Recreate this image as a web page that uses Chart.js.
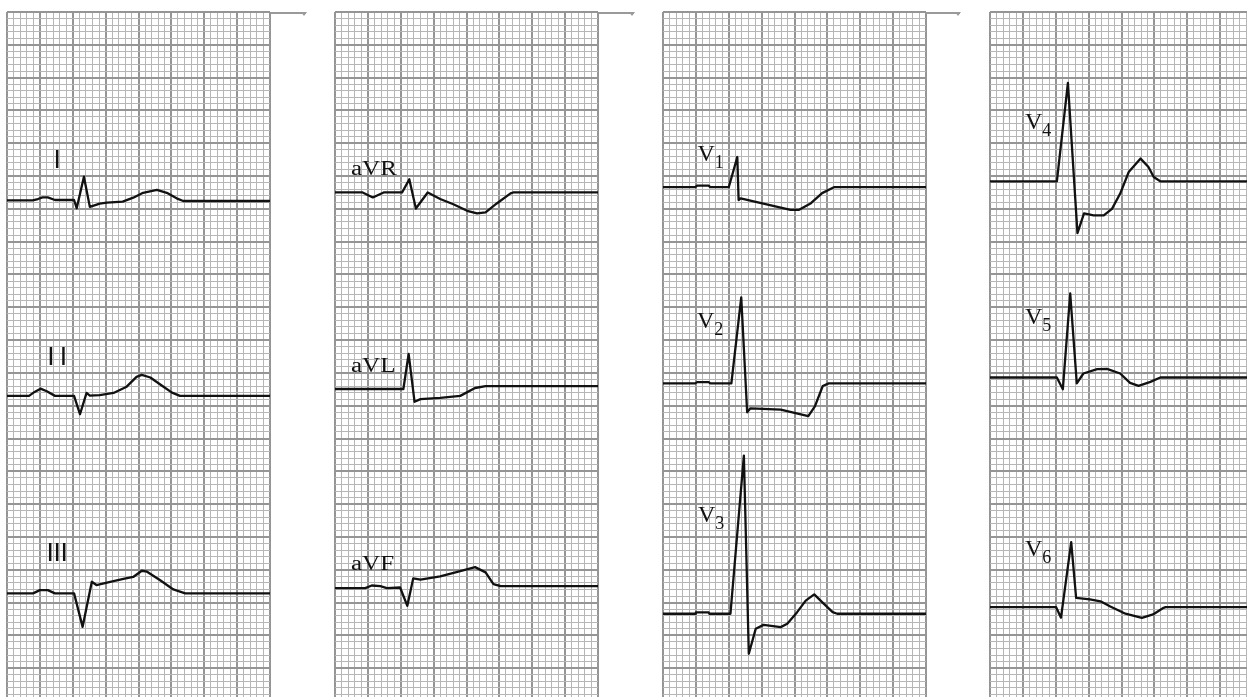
<!DOCTYPE html>
<html lang="en">
<head>
<meta charset="UTF-8">
<title>12-lead ECG</title>
<style>
  html, body { margin: 0; padding: 0; background: #fff; overflow: hidden; }
  body { width: 1247px; height: 697px; position: relative; }
  .strip { position: absolute; top: 11px; }
  .lbl { position: absolute; color: #111; line-height: 1; white-space: nowrap; }
  .roman { font-family: "DejaVu Sans", sans-serif; font-size: 25px; }
  .aug { font-family: "Liberation Serif", serif; font-size: 20px; transform: scaleX(1.25); transform-origin: left top; }
  .prec { font-family: "Liberation Serif", serif; font-size: 24px; }
  .prec sub { font-size: 18px; vertical-align: -7px; }
  .curl { position: absolute; top: 12px; height: 0; border-top: 2px solid #9a9a9a; }
  .curl::after { content: ""; position: absolute; right: -1px; top: -2px; border-left: 3px solid transparent; border-right: 3px solid transparent; border-top: 4px solid #9a9a9a; }
</style>
</head>
<body>

<canvas class="strip" id="col1" width="265" height="690" style="left:6px"></canvas>
<canvas class="strip" id="col2" width="265" height="690" style="left:334px"></canvas>
<canvas class="strip" id="col3" width="265" height="690" style="left:662px"></canvas>
<canvas class="strip" id="col4" width="265" height="690" style="left:989px"></canvas>

<div class="curl" style="left:271px; width:35px"></div>
<div class="curl" style="left:599px; width:35px"></div>
<div class="curl" style="left:926px; width:34px"></div>

<!-- lead names -->
<div class="lbl roman" style="left:53.6px; top:147px">I</div>
<div class="lbl roman" style="left:47.3px; top:343.7px; letter-spacing:5px">II</div>
<div class="lbl roman" style="left:46.6px; top:540.3px; letter-spacing:-0.4px">III</div>

<div class="lbl aug" style="left:351px; top:158px">aVR</div>
<div class="lbl aug" style="left:351px; top:355px">aVL</div>
<div class="lbl aug" style="left:351px; top:553px">aVF</div>

<div class="lbl prec" style="left:697.5px; top:141px">V<sub>1</sub></div>
<div class="lbl prec" style="left:697px; top:308px">V<sub>2</sub></div>
<div class="lbl prec" style="left:698px; top:502px">V<sub>3</sub></div>

<div class="lbl prec" style="left:1025px; top:109px">V<sub>4</sub></div>
<div class="lbl prec" style="left:1025px; top:304px">V<sub>5</sub></div>
<div class="lbl prec" style="left:1025px; top:536px">V<sub>6</sub></div>

<script src="https://cdn.jsdelivr.net/npm/chart.js"></script>
<script>
  // each point: [time in small squares, amplitude in small squares (mm)]
  const leadI = [[0,0.1],[3.9,0.1],[4.7,0.3],[5.4,0.55],[6.2,0.55],[7.3,0.15],[10.2,0.15],[10.6,-1.1],[11.7,3.7],[12.6,-0.9],
    [14.1,-0.4],[15.2,-0.25],[17.6,-0.1],[19.2,0.5],[20.7,1.25],[22.8,1.68],[24.3,1.25],[25.8,0.4],[26.8,0],[40,0]];
  const leadII = [[0,0],[3.35,0],[4.2,0.6],[5.1,1.1],[6.05,0.7],[7.3,0],[10.2,0],[11.1,-2.8],[12.1,0.45],[12.6,0.05],
    [14.1,0.1],[16.2,0.45],[18.2,1.4],[19.7,2.9],[20.5,3.2],[21.8,2.8],[23.8,1.4],[25.1,0.5],[26.3,0],[40,0]];
  const leadIII = [[0,0],[3.96,0],[5.0,0.5],[6.2,0.5],[7.3,0],[10.2,0],[11.5,-5.1],[12.9,1.77],[13.6,1.27],[15.7,1.77],
    [17.7,2.2],[19.2,2.5],[20.5,3.45],[21.3,3.3],[23.3,2.0],[25.3,0.6],[27.1,0],[40,0]];

  const leadAVR = [[0,0],[4.2,0],[5.75,-0.76],[7.4,0],[10.2,0],[11.3,2.0],[12.3,-2.45],[14.1,0],[16.0,-1.0],[18.0,-1.79],
    [20.1,-2.8],[21.6,-3.2],[22.9,-3.05],[24.6,-1.68],[26.7,-0.15],[27.1,0],[40,0]];
  const leadAVL = [[0,-0.15],[10.4,-0.15],[11.2,5.2],[12.1,-2.1],[13.0,-1.7],[16.0,-1.5],[19.05,-1.2],[21.3,0],[22.9,0.3],[40,0.3]];
  const leadAVF = [[0,-0.3],[4.6,-0.3],[5.6,0.1],[6.9,0],[7.9,-0.3],[9.9,-0.2],[11.0,-3.0],[11.9,1.2],[13.0,1.0],[16.0,1.5],
    [19.05,2.3],[21.3,2.9],[22.9,2.1],[24.1,0.3],[25.2,0],[40,0]];

  const leadV1 = [[0,0],[4.9,0],[5.2,0.25],[6.95,0.25],[7.2,0],[10.0,0],[11.3,4.6],[11.5,-1.95],[11.8,-1.7],[19.4,-3.45],
    [20.7,-3.45],[22.5,-2.44],[24.2,-0.9],[26.0,0],[40,0]];
  const leadV2 = [[0,0],[4.9,0],[5.2,0.2],[6.95,0.2],[7.2,0],[10.4,0],[11.9,13.1],[12.8,-4.4],[13.3,-3.8],[17.9,-4.0],
    [22.1,-5.0],[23.1,-3.5],[24.3,-0.4],[25.2,0],[40,0]];
  const leadV3 = [[0,0],[4.9,0],[5.0,0.2],[6.95,0.2],[7.05,0],[10.26,0],[12.3,24.1],[13.05,-6.1],[14.1,-2.3],[15.3,-1.7],
    [17.9,-2.04],[18.9,-1.53],[20.4,0.24],[21.7,2.0],[23.0,2.94],[24.2,1.77],[25.8,0.24],[26.5,0],[40,0]];

  const leadV4 = [[0,0],[10.17,0],[11.85,15.0],[13.3,-7.9],[14.3,-4.9],[15.75,-5.2],[17.3,-5.2],[18.55,-4.2],[19.8,-1.87],
    [21.1,1.42],[22.9,3.46],[24.1,2.18],[24.9,0.66],[25.9,0],[40,0]];
  const leadV5 = [[0,0],[10.17,0],[11.08,-1.78],[12.2,12.8],[13.2,-0.9],[14.2,0.61],[16.3,1.27],[17.8,1.31],[19.8,0.61],
    [21.3,-0.82],[22.6,-1.28],[24.4,-0.67],[25.9,0],[40,0]];
  const leadV6 = [[0,0],[10.06,0],[10.8,-1.6],[12.35,9.9],[13.1,1.4],[15.2,1.2],[16.8,0.9],[18.3,0.1],[20.6,-1.0],
    [23.1,-1.62],[24.8,-1.11],[26.4,-0.1],[26.7,0],[40,0]];

  // where each lead's baseline sits, in small squares below the top of the paper
  const columns = [
    { id: 'col1', leads: [leadI, leadII, leadIII], baselines: [28.8, 58.5, 88.6] },
    { id: 'col2', leads: [leadAVR, leadAVL, leadAVF], baselines: [27.5, 57.3, 87.5] },
    { id: 'col3', leads: [leadV1, leadV2, leadV3], baselines: [26.7, 56.6, 91.7] },
    { id: 'col4', leads: [leadV4, leadV5, leadV6], baselines: [25.8, 55.7, 90.7] }
  ];

  function gridColor(c) {
    return c.tick.value % 5 === 0 ? '#959595' : '#b6b6b6';
  }
  function gridWidth(c) {
    return c.tick.value % 5 === 0 ? 2 : 1;
  }

  columns.forEach(function (col) {
    new Chart(document.getElementById(col.id), {
      type: 'line',
      data: {
        datasets: col.leads.map(function (pts, i) {
          return {
            data: pts.map(p => ({ x: p[0], y: p[1] - col.baselines[i] })),
            borderColor: '#111111',
            borderWidth: 2.3,
            borderJoinStyle: 'round',
            pointRadius: 0,
            tension: 0,
            fill: false
          };
        })
      },
      options: {
        responsive: false,
        animation: false,
        events: [],
        layout: { autoPadding: false, padding: { left: 1, right: 1, top: 1, bottom: 0 } },
        plugins: { legend: { display: false }, tooltip: { enabled: false } },
        scales: {
          x: {
            type: 'linear', min: 0, max: 40,
            ticks: { display: false, stepSize: 1 },
            grid: { color: gridColor, lineWidth: gridWidth, drawTicks: false },
            border: { display: false }
          },
          y: {
            type: 'linear', min: -105, max: 0,
            ticks: { display: false, stepSize: 1 },
            grid: { color: gridColor, lineWidth: gridWidth, drawTicks: false },
            border: { display: false }
          }
        }
      }
    });
  });
</script>
</body>
</html>
